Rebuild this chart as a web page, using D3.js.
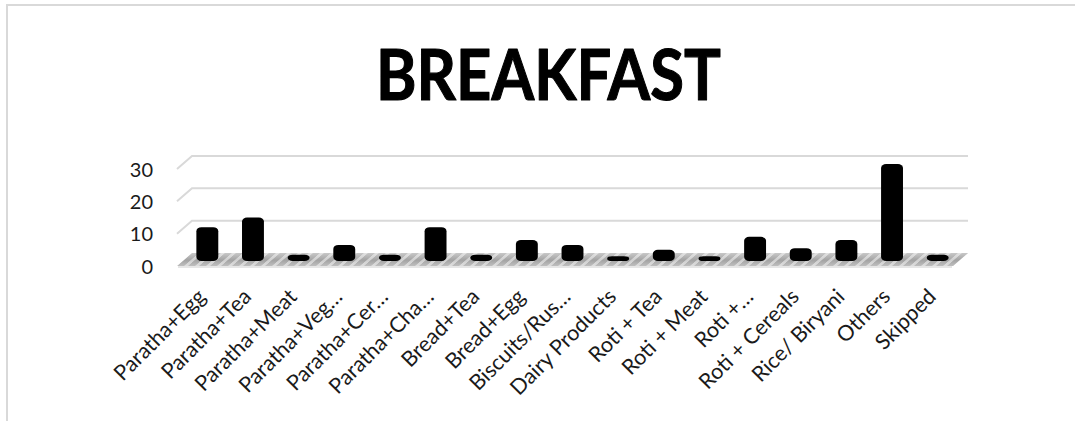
<!DOCTYPE html>
<html>
<head>
<meta charset="utf-8">
<script src="https://cdn.jsdelivr.net/npm/d3@7"></script>
<style>
  html, body { margin: 0; padding: 0; background: #fff; }
  svg { display: block; }
</style>
</head>
<body>
<svg id="chart" width="1075" height="421"></svg>
<script>
// Breakfast choices (share of respondents)
const categories = [
  "Paratha+Egg", "Paratha+Tea", "Paratha+Meat", "Paratha+Veg…", "Paratha+Cer…",
  "Paratha+Cha…", "Bread+Tea", "Bread+Egg", "Biscuits/Rus…", "Dairy Products",
  "Roti + Tea", "Roti + Meat", "Roti +…", "Roti + Cereals", "Rice/ Biryani",
  "Others", "Skipped"
];
const values = [10, 13, 1.5, 4.5, 1.5, 10, 1.5, 6, 4.5, 1, 3, 1, 7, 3.5, 6, 29.5, 1.5];
const yTicks = [0, 10, 20, 30];
const title = "BREAKFAST";

const W = 1075, H = 421;
const svg = d3.select("#chart");
const font = "Lato, 'Open Sans', sans-serif";

// 3D layout: front edge of the floor and the depth offset of the back wall
const frontLeft = 177, frontRight = 953;
const depthX = 15, depthY = -13;

// Back-wall value scale
const yBack = d3.scaleLinear().domain([0, 30]).range([253, 156]);
const yMid = v => yBack(v) - depthY / 2;
const yFront = v => yBack(v) - depthY;

// Bars sit at mid depth
const x = d3.scaleBand()
  .domain(categories)
  .range([frontLeft + depthX / 2, frontRight + depthX / 2])
  .paddingInner(0.52)
  .paddingOuter(0.26);

// Outer frame
svg.append("path")
  .attr("d", `M7,${H} L7,5 L${W},5`)
  .attr("fill", "none")
  .attr("stroke", "#d9d9d9")
  .attr("stroke-width", 2);

// Title
svg.append("text")
  .attr("x", 548.5)
  .attr("y", 100)
  .attr("text-anchor", "middle")
  .attr("font-family", font)
  .attr("font-weight", 700)
  .attr("font-size", 70)
  .attr("textLength", 345)
  .attr("lengthAdjust", "spacingAndGlyphs")
  .attr("fill", "#000")
  .attr("stroke", "#000")
  .attr("stroke-width", 1.1)
  .attr("stroke-linejoin", "round")
  .text(title);

// Gridlines: short diagonal on the side wall, then across the back wall
svg.append("g")
  .selectAll("path")
  .data(yTicks.filter(t => t > 0))
  .join("path")
  .attr("d", t => `M${frontLeft},${yFront(t)} L${frontLeft + depthX},${yBack(t)} L${frontRight + depthX},${yBack(t)}`)
  .attr("fill", "none")
  .attr("stroke", "#d9d9d9")
  .attr("stroke-width", 2);

// Floor with a striped texture
const defs = svg.append("defs");
const pat = defs.append("pattern")
  .attr("id", "floorTex")
  .attr("patternUnits", "userSpaceOnUse")
  .attr("width", 11)
  .attr("height", 13)
  .attr("patternTransform", "skewX(-49)");
pat.append("rect").attr("width", 11).attr("height", 13).attr("fill", "#a3a3a3");
pat.append("rect").attr("x", 6).attr("width", 4).attr("height", 13).attr("fill", "#cfcfcf");

const grad = defs.append("linearGradient")
  .attr("id", "floorShade").attr("x1", 0).attr("y1", 0).attr("x2", 0).attr("y2", 1);
grad.append("stop").attr("offset", "0%").attr("stop-color", "#fff").attr("stop-opacity", 0.4);
grad.append("stop").attr("offset", "55%").attr("stop-color", "#fff").attr("stop-opacity", 0);
grad.append("stop").attr("offset", "100%").attr("stop-color", "#fff").attr("stop-opacity", 0.3);

const floorPts = [
  [frontLeft, yFront(0)], [frontRight, yFront(0)],
  [frontRight + depthX, yBack(0)], [frontLeft + depthX, yBack(0)]
];
svg.append("polygon")
  .attr("points", floorPts.map(p => p.join(",")).join(" "))
  .attr("fill", "url(#floorTex)");
svg.append("polygon")
  .attr("points", floorPts.map(p => p.join(",")).join(" "))
  .attr("fill", "url(#floorShade)");
// soft shadow under the front edge
svg.append("line")
  .attr("x1", frontLeft + 1).attr("x2", frontRight - 1)
  .attr("y1", yFront(0) + 1).attr("y2", yFront(0) + 1)
  .attr("stroke", "#e6e6e6").attr("stroke-width", 2);

// Bars
svg.append("g")
  .selectAll("rect")
  .data(values)
  .join("rect")
  .attr("x", (d, i) => x(categories[i]))
  .attr("y", d => yMid(d))
  .attr("width", x.bandwidth())
  .attr("height", d => yMid(0) + 1.5 - yMid(d))
  .attr("rx", 5)
  .attr("ry", 4)
  .attr("fill", "#000");

// Value axis at the front-left edge
const yAxis = d3.axisLeft(d3.scaleLinear().domain([0, 30]).range([yFront(0), yFront(30)]))
  .tickValues(yTicks)
  .tickSize(0)
  .tickPadding(24);
const ya = svg.append("g")
  .attr("transform", `translate(${frontLeft},0)`)
  .call(yAxis);
ya.select(".domain").remove();
ya.selectAll("text")
  .attr("font-family", font)
  .attr("font-size", 20)
  .attr("fill", "#1a1a1a")
  .attr("dy", "0.35em");

// Category labels, rotated
svg.append("g")
  .selectAll("text")
  .data(categories)
  .join("text")
  .attr("transform", d => {
    const cx = x(d) + x.bandwidth() / 2 - depthX / 2;
    return `translate(${cx + 7},${298}) rotate(-45)`;
  })
  .attr("text-anchor", "end")
  .attr("font-family", font)
  .attr("font-size", 21.5)
  .attr("fill", "#1a1a1a")
  .text(d => d);
</script>
</body>
</html>
